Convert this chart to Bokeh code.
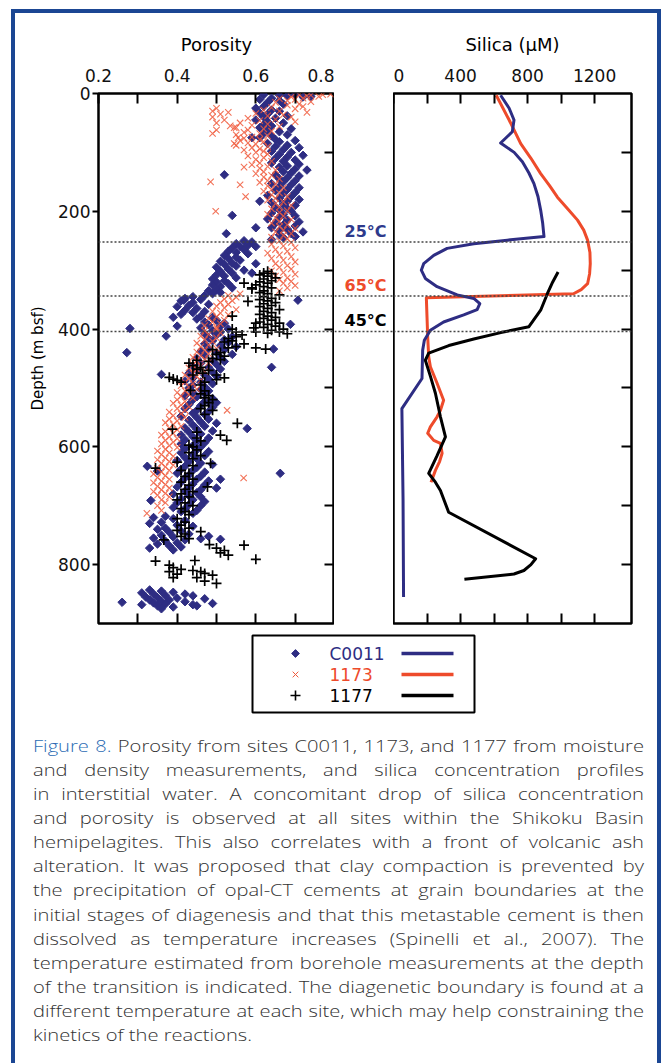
import numpy as np
from bokeh.plotting import figure
from bokeh.models import Range1d, FixedTicker, Span, Div, Spacer, LinearAxis, ColumnDataSource
from bokeh.layouts import column, row
from bokeh.embed import file_html
from bokeh.resources import INLINE
from bokeh.core.properties import value

# ---------------- data ----------------
# porosity samples (depth m bsf, porosity)
c0011_points = [
 (2,0.62),(3,0.66),(2,0.70),(5,0.74),(4,0.68),(8,0.64),(10,0.61),(12,0.66),(15,0.63),(18,0.67),(6,0.72),
 (22,0.62),(25,0.60),(28,0.64),(30,0.66),(33,0.61),(35,0.63),(38,0.68),(40,0.62),(42,0.65),(45,0.60),(48,0.63),
 (50,0.67),(53,0.62),(55,0.64),(58,0.61),(60,0.69),(62,0.63),(65,0.66),(68,0.62),(70,0.68),(72,0.64),(75,0.61),
 (78,0.65),(80,0.70),(82,0.66),(85,0.63),(88,0.68),(90,0.65),(92,0.71),(95,0.67),(98,0.64),
 (100,0.69),(103,0.66),(105,0.72),(108,0.68),(110,0.65),(113,0.70),(115,0.67),(118,0.64),(120,0.71),(123,0.68),
 (125,0.66),(128,0.70),(130,0.73),(133,0.67),(135,0.69),(138,0.65),(140,0.71),(143,0.68),(145,0.66),(148,0.70),
 (150,0.67),(153,0.64),(155,0.69),(158,0.66),(160,0.71),(163,0.68),(165,0.65),(168,0.70),(170,0.67),(173,0.63),
 (175,0.69),(178,0.66),(180,0.71),(183,0.68),(185,0.64),(188,0.67),(190,0.70),(193,0.65),(195,0.68),(198,0.66),
 (200,0.69),(203,0.64),(205,0.67),(208,0.70),(210,0.66),(213,0.63),(215,0.68),(218,0.71),(220,0.65),(223,0.67),
 (225,0.70),(228,0.64),(230,0.68),(233,0.66),(235,0.72),(238,0.69),(240,0.66),(243,0.70),(245,0.67),(248,0.64),
 (138,0.52),(207,0.54),(238,0.525),(228,0.60),(183,0.61),(75,0.59),
 (250,0.57),(252,0.59),(255,0.55),(258,0.58),(260,0.56),(262,0.54),(265,0.57),(268,0.53),(270,0.55),(272,0.58),
 (275,0.52),(278,0.55),(280,0.53),(283,0.56),(285,0.51),(288,0.54),(290,0.52),(293,0.55),(295,0.50),(298,0.53),
 (300,0.57),(302,0.51),(305,0.54),(308,0.50),(310,0.52),(313,0.55),(315,0.49),(318,0.52),(320,0.50),(323,0.53),
 (325,0.49),(328,0.51),(330,0.54),(333,0.50),(335,0.48),(338,0.51),(340,0.49),(289,0.60),(305,0.59),(260,0.60),
 (343,0.47),(345,0.44),(348,0.42),(350,0.46),(352,0.41),(355,0.44),(358,0.48),(360,0.43),(362,0.40),(365,0.45),
 (368,0.42),(370,0.47),(372,0.44),(375,0.41),(378,0.46),(380,0.49),(383,0.45),(385,0.50),(388,0.47),(390,0.52),
 (393,0.48),(395,0.51),(398,0.46),(400,0.53),(403,0.49),(405,0.51),(408,0.47),(410,0.50),(413,0.54),(415,0.48),
 (418,0.52),(351,0.417),(351,0.707),(392,0.688),(399,0.28),(412,0.372),(440,0.272),(477,0.36),(465,0.64),
 (434,0.645),(395,0.40),(380,0.39),
 (420,0.49),(423,0.53),(425,0.47),(428,0.51),(430,0.55),(433,0.48),(435,0.52),(438,0.46),(440,0.50),(443,0.54),
 (445,0.47),(448,0.51),(450,0.45),(453,0.49),(455,0.52),(458,0.46),(460,0.50),(463,0.44),(465,0.48),(468,0.51),
 (470,0.45),(473,0.49),(475,0.43),(478,0.47),(480,0.50),(483,0.44),(485,0.48),(488,0.42),(490,0.46),(493,0.49),
 (495,0.44),(498,0.47),(500,0.43),(503,0.46),(505,0.48),(508,0.44),(510,0.47),(513,0.42),(515,0.45),(518,0.49),
 (569,0.578),(526,0.485),
 (520,0.44),(523,0.47),(525,0.50),(528,0.43),(530,0.46),(533,0.49),(535,0.42),(538,0.45),(540,0.48),(543,0.44),
 (545,0.47),(548,0.41),(550,0.45),(553,0.48),(555,0.43),(558,0.46),(560,0.50),(563,0.44),(565,0.47),(568,0.42),
 (570,0.45),(573,0.49),(575,0.43),(578,0.46),(580,0.41),(583,0.44),(585,0.48),(588,0.42),(590,0.45),(593,0.47),
 (595,0.41),(598,0.44),(600,0.46),(603,0.42),(605,0.45),(608,0.48),(610,0.41),(613,0.44),(615,0.47),(618,0.42),
 (620,0.45),(623,0.40),(625,0.43),(628,0.46),(630,0.49),(633,0.42),(635,0.45),(638,0.41),(640,0.44),(643,0.47),
 (645,0.40),(648,0.43),(650,0.46),(653,0.42),(655,0.45),(658,0.48),(660,0.41),(663,0.44),(665,0.47),(668,0.40),
 (670,0.43),(673,0.46),(675,0.42),(678,0.45),(680,0.39),(683,0.43),(685,0.46),(688,0.41),(690,0.44),(693,0.47),
 (695,0.40),(698,0.43),(700,0.46),(703,0.39),(705,0.42),(708,0.45),(710,0.41),(713,0.44),
 (633,0.324),(645,0.662),(691,0.333),(641,0.35),(655,0.51),(670,0.50),
 (718,0.37),(720,0.34),(722,0.39),(725,0.42),(728,0.36),(730,0.33),(733,0.40),(735,0.44),(738,0.37),(740,0.35),
 (743,0.41),(745,0.38),(748,0.43),(750,0.36),(753,0.39),(755,0.34),(758,0.42),(760,0.37),(763,0.40),(765,0.35),
 (768,0.38),(770,0.41),(756,0.46),(752,0.48),(757,0.51),(772,0.33),(775,0.39),
 (843,0.33),(845,0.36),(847,0.39),(848,0.31),(850,0.34),(850,0.42),(852,0.37),(853,0.44),(855,0.32),(856,0.35),
 (857,0.40),(858,0.47),(860,0.33),(860,0.38),(862,0.36),(863,0.42),(864,0.26),(865,0.34),(866,0.49),(867,0.37),
 (868,0.31),(870,0.35),(870,0.45),(872,0.39),(875,0.36),(868,0.44),
]
site1173_points = [
 (1,0.79),(2,0.77),(3,0.74),(2,0.71),(5,0.76),(6,0.69),(4,0.73),(8,0.72),(9,0.66),(10,0.70),(12,0.68),(14,0.74),
 (15,0.65),(18,0.71),
 (20,0.68),(22,0.72),(24,0.64),(26,0.70),(28,0.62),(30,0.66),(32,0.73),(34,0.60),(36,0.67),(38,0.63),(40,0.69),
 (42,0.58),(44,0.65),(46,0.61),(48,0.70),(50,0.56),(52,0.63),(54,0.59),(56,0.66),(58,0.55),(60,0.62),(62,0.58),
 (64,0.64),(66,0.57),(68,0.61),(70,0.55),(72,0.63),(74,0.59),(76,0.57),(78,0.61),(80,0.56),(82,0.62),(84,0.58),
 (86,0.60),(88,0.55),(90,0.63),(92,0.59),(94,0.61),(96,0.57),(98,0.62),
 (25,0.50),(30,0.49),(35,0.51),(40,0.49),(45,0.52),(50,0.50),(55,0.535),(62,0.50),(68,0.49),(32,0.53),(58,0.545),
 (75,0.555),(85,0.545),
 (100,0.60),(103,0.63),(106,0.58),(109,0.62),(112,0.60),(115,0.64),(118,0.61),(121,0.59),(124,0.63),(127,0.61),
 (130,0.65),(133,0.62),(136,0.60),(139,0.64),(142,0.62),(145,0.66),(148,0.63),(151,0.61),(154,0.65),(157,0.63),
 (160,0.67),(163,0.64),(166,0.62),(169,0.66),(172,0.64),(175,0.68),(178,0.65),(181,0.63),(184,0.67),(187,0.65),
 (190,0.69),(193,0.66),(196,0.64),(199,0.68),(202,0.66),(205,0.63),(208,0.67),(211,0.65),(214,0.69),(217,0.66),
 (220,0.64),(223,0.68),(226,0.66),(229,0.70),(232,0.67),(235,0.65),(238,0.69),(241,0.67),(244,0.64),(247,0.68),
 (150,0.485),(175,0.574),(200,0.498),(155,0.56),(125,0.57),
 (250,0.66),(253,0.69),(256,0.64),(259,0.67),(262,0.70),(265,0.65),(268,0.68),(271,0.63),(274,0.66),(277,0.69),
 (280,0.64),(283,0.67),(286,0.70),(289,0.65),(292,0.68),(295,0.66),(298,0.69),(301,0.64),(304,0.67),(307,0.70),
 (310,0.65),(313,0.68),(316,0.66),(319,0.69),(322,0.67),(326,0.70),(330,0.68),(335,0.66),
 (340,0.56),(343,0.53),(346,0.55),(349,0.52),(352,0.54),(355,0.51),(358,0.53),(361,0.50),(364,0.52),(367,0.55),
 (370,0.49),(373,0.51),(376,0.53),(379,0.50),(382,0.48),(385,0.52),(388,0.49),(391,0.51),(394,0.47),(397,0.50),
 (400,0.50),(403,0.47),(406,0.51),(409,0.48),(412,0.46),(415,0.50),(418,0.47),(421,0.49),(424,0.45),(427,0.48),
 (430,0.46),(433,0.50),(436,0.47),(439,0.45),(442,0.48),(445,0.46),(448,0.44),(451,0.47),(454,0.45),(457,0.48),
 (460,0.44),(463,0.46),(466,0.43),(469,0.45),(472,0.47),(475,0.44),(478,0.42),(481,0.45),(484,0.43),(487,0.46),
 (490,0.42),(493,0.44),(496,0.41),(499,0.43),(502,0.45),(505,0.42),(508,0.40),(511,0.43),(514,0.41),(517,0.44),
 (520,0.40),(523,0.42),(526,0.39),(529,0.41),(532,0.43),(535,0.40),(538,0.42),(541,0.38),(544,0.41),(547,0.39),
 (550,0.42),(553,0.38),(556,0.40),(559,0.37),(562,0.39),(565,0.41),(568,0.38),(571,0.40),(574,0.37),(577,0.39),
 (580,0.36),(583,0.38),(586,0.40),(589,0.37),(592,0.39),(595,0.36),(598,0.38),(601,0.40),(604,0.37),(607,0.35),
 (610,0.38),(613,0.36),(616,0.39),(619,0.37),(622,0.35),(625,0.38),(628,0.36),(631,0.39),(634,0.37),(637,0.35),
 (640,0.38),(643,0.36),(646,0.34),(649,0.37),(652,0.35),(655,0.38),(658,0.36),(661,0.34),(664,0.37),(667,0.35),
 (670,0.38),(673,0.36),(676,0.34),(679,0.37),(682,0.35),(685,0.38),(690,0.36),(695,0.37),(700,0.35),
 (538,0.527),(653,0.569),(713,0.323),(708,0.36),
]
site1177_points = [
 (302,0.63),(305,0.62),(306,0.64),(308,0.61),(310,0.63),(313,0.65),(315,0.62),(318,0.64),(320,0.61),(322,0.63),
 (325,0.60),(328,0.62),(330,0.64),(332,0.59),(335,0.62),(338,0.61),(340,0.63),(342,0.66),(345,0.62),(348,0.64),
 (350,0.61),(352,0.63),(355,0.65),(357,0.62),(360,0.64),(362,0.61),(365,0.63),(367,0.66),(370,0.62),(372,0.64),
 (375,0.61),(378,0.63),(380,0.65),(382,0.62),(385,0.64),(388,0.61),(390,0.66),(392,0.63),(395,0.65),(397,0.62),
 (400,0.67),(402,0.64),(405,0.66),(407,0.63),(408,0.68),
 (322,0.57),(330,0.59),(353,0.58),(378,0.54),(390,0.60),(398,0.595),(405,0.60),
 (400,0.54),(405,0.55),(410,0.565),(413,0.55),(416,0.53),(420,0.54),(425,0.57),(430,0.55),(432,0.53),(422,0.52),
 (435,0.49),(440,0.51),(443,0.50),(446,0.52),(450,0.49),(452,0.51),(455,0.48),(432,0.60),(434,0.625),
 (453,0.45),(458,0.43),(462,0.44),(465,0.46),(468,0.45),(470,0.48),(475,0.465),(478,0.44),(482,0.38),(485,0.39),
 (487,0.40),(490,0.41),(478,0.50),(483,0.52),(486,0.50),(490,0.47),(495,0.46),(504,0.434),
 (505,0.47),(510,0.46),(513,0.48),(517,0.47),(520,0.49),(525,0.48),(530,0.47),(535,0.46),(538,0.49),(545,0.47),
 (560,0.553),(570,0.388),(575,0.45),(580,0.51),(585,0.45),(589,0.526),(590,0.46),(597,0.43),(600,0.44),(605,0.45),
 (610,0.43),(615,0.46),(620,0.44),(626,0.40),(628,0.485),(632,0.44),(636,0.345),(640,0.41),(645,0.43),(650,0.42),
 (655,0.44),(660,0.41),(665,0.43),(668,0.477),(672,0.42),(676,0.44),(680,0.41),(685,0.43),(690,0.40),(695,0.42),
 (700,0.44),(705,0.41),(710,0.42),(715,0.43),
 (722,0.40),(728,0.42),(733,0.41),(738,0.43),(742,0.40),(744,0.46),(748,0.42),(752,0.41),(756,0.43),(758,0.366),
 (766,0.482),(767,0.57),(772,0.50),(776,0.52),(780,0.51),(784,0.53),(791,0.60),(794,0.345),(793,0.445),(801,0.38),
 (805,0.39),(808,0.41),(812,0.38),(816,0.40),(822,0.39),(810,0.44),(815,0.47),(818,0.49),(822,0.45),(828,0.47),
 (832,0.50),(812,0.46),
]

# silica profiles (depth m bsf, silica uM)
c0011_silica_depth = [3,25,45,65,84,100,116,135,153,175,198,220,243,249,255,263,275,289,300,314,328,342,348,357,
                      367,376,388,402,419,436,484,535,690,855]
c0011_silica = [639,690,719,709,639,720,769,808,838,862,878,890,898,679,479,320,240,180,166,190,260,380,479,515,
                499,419,299,220,184,174,170,50,57,60]
s1173_silica_depth = [3,45,85,110,136,156,176,196,215,232,249,270,289,306,323,333,340,347,380,413,447,464,492,521,
                      538,549,566,577,589,594,611,625,640,660]
s1173_silica = [613,690,759,820,878,930,978,1040,1098,1135,1158,1172,1174,1170,1158,1120,1074,196,200,204,210,220,
                260,299,280,260,220,204,240,280,290,275,250,224]
s1177_silica_depth = [303,320,340,368,396,406,417,428,441,453,480,509,549,583,615,645,660,674,711,790,800,810,816,825]
s1177_silica = [982,950,918,878,808,640,479,330,210,190,220,250,280,310,260,210,250,280,329,848,820,778,719,423]

# transition depths and temperatures
transition_depths = [252, 344, 404]
transition_labels = ["25°C", "65°C", "45°C"]

series_names = ["C0011", "1173", "1177"]
porosity_ticks = [0.2, 0.4, 0.6, 0.8]
porosity_minor = [0.3, 0.5, 0.7]
silica_ticks = [0, 400, 800, 1200]
silica_minor = [200, 600, 1000]
depth_ticks = [0, 200, 400, 600, 800]
depth_minor = [100, 200, 300, 400, 500, 600, 700, 800]

# ---------------- styles ----------------
BLUE = "#2e2d83"
RED = "#ee4b2b"
RED_MARK = "#f05a3c"
BLACK = "#000000"
FONT = "DejaVu Sans"
colors = [BLUE, RED, BLACK]
label_colors = ["#2e3a8c", RED, BLACK]

c_d = [d for d, _ in c0011_points]; c_p = [p for _, p in c0011_points]
r_d = [d for d, _ in site1173_points]; r_p = [p for _, p in site1173_points]
k_d = [d for d, _ in site1177_points]; k_p = [p for _, p in site1177_points]

yr = Range1d(900, 0)
TOP, BOT, FH = 80, 5, 530


def base_fig(**kw):
    p = figure(output_backend="svg", toolbar_location=None, y_range=yr, frame_height=FH,
               min_border_top=TOP, min_border_bottom=BOT, background_fill_color="white",
               border_fill_color="white", **kw)
    p.grid.visible = False
    return p


def style_axis(ax, ticks, minor, tin, tout, labels=True):
    ax.ticker = FixedTicker(ticks=ticks, minor_ticks=minor)
    ax.axis_line_color = None
    ax.major_tick_in = tin
    ax.major_tick_out = tout
    ax.minor_tick_in = tin
    ax.minor_tick_out = tout
    ax.major_tick_line_width = 2
    ax.minor_tick_line_width = 2
    ax.major_tick_line_color = "black"
    ax.minor_tick_line_color = "black"
    if labels:
        ax.major_label_text_font = FONT
        ax.major_label_text_font_size = "17px"
        ax.major_label_text_color = "#111111"
    else:
        ax.major_label_text_font_size = "0px"
        ax.major_label_standoff = 0
        ax.major_label_text_color = None
    ax.axis_label_text_font = FONT
    ax.axis_label_text_font_style = "normal"
    ax.axis_label_text_color = "black"


# ----- porosity panel -----
p1 = base_fig(frame_width=236, x_range=Range1d(0.2, 0.8), x_axis_location="above",
              min_border_left=83, min_border_right=0)
p1.outline_line_color = "black"
p1.outline_line_width = 2.5
style_axis(p1.xaxis[0], porosity_ticks, porosity_minor, 10, 0)
p1.xaxis[0].axis_label = "Porosity"
p1.xaxis[0].axis_label_text_font_size = "18px"
p1.xaxis[0].axis_label_standoff = 11
p1.xaxis[0].major_label_standoff = 12
style_axis(p1.yaxis[0], depth_ticks, [], 0, 6)
p1.yaxis[0].minor_tick_line_color = None
p1.yaxis[0].major_label_standoff = 2
p1.yaxis[0].axis_label = "Depth (m bsf)"
p1.yaxis[0].axis_label_text_font_size = "15px"
p1.yaxis[0].axis_label_standoff = 8
ax_r = LinearAxis()
style_axis(ax_r, depth_minor, [], 10, 0, labels=False)
p1.add_layout(ax_r, "right")
ax_b = LinearAxis()
style_axis(ax_b, porosity_minor + porosity_ticks[1:3], [], 10, 0, labels=False)
p1.add_layout(ax_b, "below")

for d in transition_depths:
    p1.add_layout(Span(location=d, dimension="width", line_color="#444444", line_dash="2 2", line_width=1.5))

p1.scatter(x=c_p, y=c_d, marker="square", angle=np.pi / 4, size=6, fill_color=BLUE, line_color=BLUE)
p1.scatter(x=r_p, y=r_d, marker="x", size=9, line_color=RED_MARK, line_width=1.1, line_alpha=0.85)
p1.scatter(x=k_p, y=k_d, marker="cross", size=10, line_color=BLACK, line_width=1.7)

# ----- gap with temperature labels -----
pg = base_fig(frame_width=59, x_range=Range1d(0, 1), min_border_left=0, min_border_right=0,
              x_axis_type=None, y_axis_type=None)
pg.outline_line_color = None
for d in transition_depths:
    pg.add_layout(Span(location=d, dimension="width", line_color="#444444", line_dash="2 2", line_width=1.5))
lab_src = ColumnDataSource(dict(x=[pg.x_range.end] * len(transition_depths), y=transition_depths,
                                t=transition_labels, c=label_colors))
pg.text(x="x", y="y", text="t", text_color="c", source=lab_src, text_align="right", text_baseline="bottom",
        x_offset=-7, y_offset=-1, text_font=value(FONT), text_font_style="bold", text_font_size=value("16px"))

# ----- silica panel -----
p2 = base_fig(frame_width=238, x_range=Range1d(0, 1420), x_axis_location="above", y_axis_location="right",
              min_border_left=0, min_border_right=26)
p2.outline_line_color = "black"
p2.outline_line_width = 2.5
style_axis(p2.xaxis[0], silica_ticks, silica_minor, 10, 0)
p2.xaxis[0].axis_label = "Silica (µM)"
p2.xaxis[0].axis_label_text_font_size = "18px"
p2.xaxis[0].axis_label_standoff = 11
p2.xaxis[0].major_label_standoff = 12
style_axis(p2.yaxis[0], depth_minor, [], 10, 0, labels=False)
ax_b2 = LinearAxis()
style_axis(ax_b2, silica_minor + silica_ticks[1:], [], 10, 0, labels=False)
p2.add_layout(ax_b2, "below")
for d in transition_depths:
    p2.add_layout(Span(location=d, dimension="width", line_color="#444444", line_dash="2 2", line_width=1.5))

p2.line(x=s1173_silica, y=s1173_silica_depth, line_color=RED, line_width=3, line_join="round")
p2.line(x=c0011_silica, y=c0011_silica_depth, line_color=BLUE, line_width=3, line_join="round")
p2.line(x=s1177_silica, y=s1177_silica_depth, line_color=BLACK, line_width=3, line_join="round")

# ----- legend -----
pl = figure(output_backend="svg", toolbar_location=None, width=642, height=92, x_range=Range1d(0, 642),
            y_range=Range1d(92, 0), min_border=0, x_axis_type=None, y_axis_type=None)
pl.outline_line_color = None
pl.grid.visible = False
pl.quad(left=[237], right=[459], top=[7], bottom=[84], fill_color=None, line_color="black", line_width=2)
rows_y = [25, 46, 67]
pl.scatter(x=[280], y=[rows_y[0]], marker="square", angle=np.pi / 4, size=5.5, fill_color=BLUE, line_color=BLUE)
pl.scatter(x=[280], y=[rows_y[1]], marker="x", size=8, line_color=RED_MARK, line_width=1)
pl.scatter(x=[280], y=[rows_y[2]], marker="cross", size=10, line_color=BLACK, line_width=1.6)
pl.text(x=[314] * 3, y=rows_y, text=series_names, text_color=colors, text_baseline="middle",
        text_font=value(FONT), text_font_size=value("17px"))
pl.segment(x0=[386] * 3, x1=[438] * 3, y0=rows_y, y1=rows_y, line_color=colors, line_width=3.5)

# ----- caption -----
caption_lines = [
    "Porosity from sites C0011, 1173, and 1177 from moisture",
    "and density measurements, and silica concentration profiles",
    "in interstitial water. A concomitant drop of silica concentration",
    "and porosity is observed at all sites within the Shikoku Basin",
    "hemipelagites. This also correlates with a front of volcanic ash",
    "alteration. It was proposed that clay compaction is prevented by",
    "the precipitation of opal-CT cements at grain boundaries at the",
    "initial stages of diagenesis and that this metastable cement is then",
    "dissolved as temperature increases (Spinelli et al., 2007). The",
    "temperature estimated from borehole measurements at the depth",
    "of the transition is indicated. The diagenetic boundary is found at a",
    "different temperature at each site, which may help constraining the",
    "kinetics of the reactions.",
]
STRETCH = 1.22
jl = "text-align:justify;text-align-last:justify;white-space:nowrap;"
html = []
for i, ln in enumerate(caption_lines):
    if i == 0:
        ln = '<span style="color:#2b6cb4;">Figure 8.</span> ' + ln
    st = jl if i < len(caption_lines) - 1 else "white-space:nowrap;"
    html.append(f'<div style="{st}">{ln}</div>')
caption = Div(text=(f'<div style="margin:14px 0 0 18px;width:{611 / STRETCH:.1f}px;'
                    f'transform:scaleX({STRETCH});transform-origin:0 0;'
                    f'font-family:\'Open Sans\',Roboto,sans-serif;'
                    f'font-weight:300;font-size:16.5px;line-height:24.08px;color:#333333;">' + "".join(html) + "</div>"),
              width=642, height=335, margin=0)

content = column(row(p1, pg, p2), pl, caption)

BORDER = "#1b4693"
top_bar = Div(text="", width=650, height=4, margin=0, styles={"background-color": BORDER})
left_bar = Div(text="", width=4, height=1050, margin=0, styles={"background-color": BORDER})
right_bar = Div(text="", width=4, height=1050, margin=0, styles={"background-color": BORDER})

root = column(Spacer(width=668, height=9),
              row(Spacer(width=11, height=4), top_bar),
              row(Spacer(width=11, height=1050), left_bar, content, right_bar))

open("out.html", "w").write(file_html(root, INLINE))
